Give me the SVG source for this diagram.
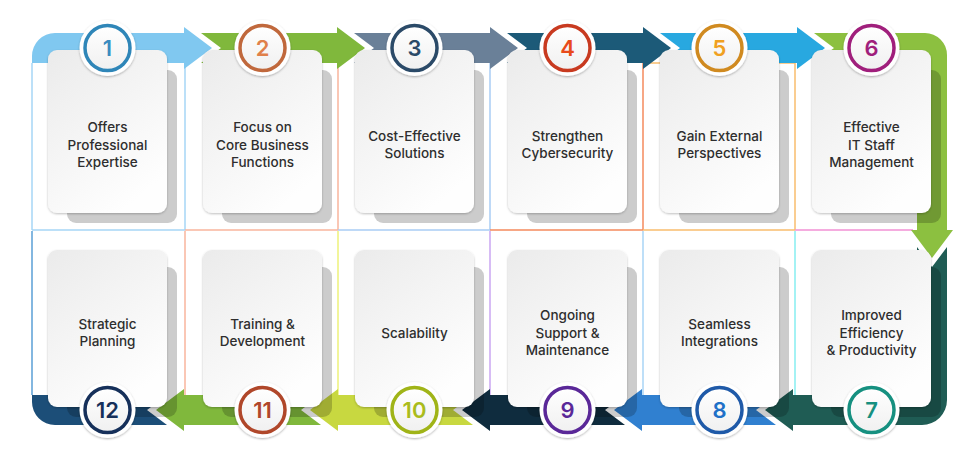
<svg xmlns="http://www.w3.org/2000/svg" width="978" height="464" viewBox="0 0 978 464">
<style>
.card{fill:url(#cardg);filter:url(#ds)}
.sh{fill:#000;fill-opacity:0.2}
.disk{fill:#fff;filter:url(#ds2)}
.ring{fill:url(#ringg);stroke-width:3.5}
.num{font-family:Inter,"Liberation Sans",sans-serif;font-weight:600;font-size:22px;text-anchor:middle}
.lbl{font-family:Inter,"Liberation Sans",sans-serif;font-weight:500;font-size:13.5px;fill:#2e2e2e;text-anchor:middle}
.gl{fill:none;stroke-width:1.5}
</style>
<defs>
<linearGradient id="cardg" x1="0" y1="0" x2="0.6" y2="1">
<stop offset="0" stop-color="#ebebeb"/>
<stop offset="1" stop-color="#fefefe"/>
</linearGradient>
<linearGradient id="ringg" x1="0" y1="0" x2="0" y2="1">
<stop offset="0" stop-color="#ffffff"/>
<stop offset="1" stop-color="#f0f0f0"/>
</linearGradient>
<filter id="ds" x="-10%" y="-10%" width="120%" height="120%">
<feDropShadow dx="0" dy="1" stdDeviation="1.2" flood-color="#000" flood-opacity="0.25"/>
</filter>
<filter id="ds2" x="-20%" y="-20%" width="140%" height="140%">
<feDropShadow dx="0" dy="1" stdDeviation="1.2" flood-color="#000" flood-opacity="0.3"/>
</filter>
</defs>
<rect width="978" height="464" fill="#fff"/>
<g id="grid">
<line class="gl" x1="32" y1="63" x2="32" y2="230" stroke="#a6d6f6"/>
<line class="gl" x1="185" y1="63" x2="185" y2="230" stroke="#a6d6f6"/>
<line class="gl" x1="338" y1="63" x2="338" y2="230" stroke="#f8b49c"/>
<line class="gl" x1="490" y1="63" x2="490" y2="230" stroke="#a8ccf4"/>
<line class="gl" x1="643" y1="63" x2="643" y2="230" stroke="#f58a5c"/>
<line class="gl" x1="795" y1="63" x2="795" y2="230" stroke="#f8bc6c"/>
<line class="gl" x1="643" y1="63" x2="795" y2="63" stroke="#f8bc6c"/>
<line class="gl" x1="32" y1="230" x2="185" y2="230" stroke="#a6d6f6"/>
<line class="gl" x1="185" y1="230" x2="338" y2="230" stroke="#f8b49c"/>
<line class="gl" x1="338" y1="230" x2="490" y2="230" stroke="#a8ccf4"/>
<line class="gl" x1="490" y1="230" x2="643" y2="230" stroke="#f58a5c"/>
<line class="gl" x1="643" y1="230" x2="795" y2="230" stroke="#f8bc6c"/>
<line class="gl" x1="795" y1="230" x2="913" y2="230" stroke="#f290d4"/>
<line class="gl" x1="32" y1="231" x2="32" y2="395" stroke="#5a9fd6"/>
<line class="gl" x1="185" y1="231" x2="185" y2="395" stroke="#f8b49c"/>
<line class="gl" x1="338" y1="231" x2="338" y2="395" stroke="#eef27a"/>
<line class="gl" x1="490" y1="231" x2="490" y2="395" stroke="#caa6f2"/>
<line class="gl" x1="643" y1="231" x2="643" y2="395" stroke="#a8d4f6"/>
<line class="gl" x1="795" y1="231" x2="795" y2="395" stroke="#86eef0"/>
</g>
<g id="connectors">
<path d="M32,63 V56 A23,23 0 0 1 55,33 H184 V27 L212,48 L184,69 V63 Z" fill="#80c8f0"/>
<path d="M201,33 H337 V27 L365,48 L337,69 V63 H201 L221,48 Z" fill="#80b83c"/>
<path d="M354,33 H490 V27 L518,48 L490,69 V63 H354 L374,48 Z" fill="#6a8098"/>
<path d="M507,33 H643 V27 L671,48 L643,69 V63 H507 L527,48 Z" fill="#1c5a78"/>
<path d="M660,33 H797 V27 L825,48 L797,69 V63 H660 L680,48 Z" fill="#28a8e0"/>
<path d="M814,33 H925 A22,22 0 0 1 947,55 V230 H953 L932,258 L911,230 H917 V63 H814 L834,48 Z" fill="#8cc040"/>
<path d="M917,247 L932,267 L947,247 V400 A25,25 0 0 1 922,425 H793 V431 L765,410 L793,389 V395 H917 Z" fill="#1f5c54"/>
<path d="M776,395 L756,410 L776,425 H642 V431 L614,410 L642,389 V395 Z" fill="#3080d0"/>
<path d="M625,395 L605,410 L625,425 H490 V431 L462,410 L490,389 V395 Z" fill="#0f2c3e"/>
<path d="M473,395 L453,410 L473,425 H338 V431 L310,410 L338,389 V395 Z" fill="#c8d840"/>
<path d="M321,395 L301,410 L321,425 H184 V431 L156,410 L184,389 V395 Z" fill="#80b83c"/>
<path d="M167,395 L147,410 L167,425 H55 A23,23 0 0 1 32,402 V395 Z" fill="#1c4e78"/>
</g>
<g id="node1">
<rect class="sh" x="67" y="70" width="110" height="153" rx="9"/>
<rect class="card" x="48" y="50" width="119" height="163" rx="9"/>
<circle class="disk" cx="107.5" cy="48" r="28"/>
<circle class="ring" cx="107.5" cy="48" r="22.5" stroke="#2f86b8"/>
<text class="num" x="107.5" y="56" fill="#3a8cc0">1</text>
<text class="lbl" y="132"><tspan x="107.5">Offers</tspan><tspan x="107.5" dy="17.5">Professional</tspan><tspan x="107.5" dy="17.5">Expertise</tspan></text>
</g>
<g id="node2">
<rect class="sh" x="222" y="70" width="110" height="153" rx="9"/>
<rect class="card" x="203" y="50" width="119" height="163" rx="9"/>
<circle class="disk" cx="262.5" cy="48" r="28"/>
<circle class="ring" cx="262.5" cy="48" r="22.5" stroke="#c0683c"/>
<text class="num" x="262.5" y="56" fill="#e0804a">2</text>
<text class="lbl" y="132"><tspan x="262.5">Focus on</tspan><tspan x="262.5" dy="17.5">Core Business</tspan><tspan x="262.5" dy="17.5">Functions</tspan></text>
</g>
<g id="node3">
<rect class="sh" x="374" y="70" width="110" height="153" rx="9"/>
<rect class="card" x="355" y="50" width="119" height="163" rx="9"/>
<circle class="disk" cx="414.5" cy="48" r="28"/>
<circle class="ring" cx="414.5" cy="48" r="22.5" stroke="#2b4a68"/>
<text class="num" x="414.5" y="56" fill="#2b4a68">3</text>
<text class="lbl" y="141"><tspan x="414.5">Cost-Effective</tspan><tspan x="414.5" dy="17">Solutions</tspan></text>
</g>
<g id="node4">
<rect class="sh" x="527" y="70" width="110" height="153" rx="9"/>
<rect class="card" x="508" y="50" width="119" height="163" rx="9"/>
<circle class="disk" cx="567.5" cy="48" r="28"/>
<circle class="ring" cx="567.5" cy="48" r="22.5" stroke="#c83a20"/>
<text class="num" x="567.5" y="56" fill="#e84a1a">4</text>
<text class="lbl" y="141"><tspan x="567.5">Strengthen</tspan><tspan x="567.5" dy="17">Cybersecurity</tspan></text>
</g>
<g id="node5">
<rect class="sh" x="679" y="70" width="110" height="153" rx="9"/>
<rect class="card" x="660" y="50" width="119" height="163" rx="9"/>
<circle class="disk" cx="719.5" cy="48" r="28"/>
<circle class="ring" cx="719.5" cy="48" r="22.5" stroke="#d08a20"/>
<text class="num" x="719.5" y="56" fill="#f0a020">5</text>
<text class="lbl" y="141"><tspan x="719.5">Gain External</tspan><tspan x="719.5" dy="17">Perspectives</tspan></text>
</g>
<g id="node6">
<rect class="sh" x="831" y="70" width="110" height="153" rx="9"/>
<rect class="card" x="812" y="50" width="119" height="163" rx="9"/>
<circle class="disk" cx="871.5" cy="48" r="28"/>
<circle class="ring" cx="871.5" cy="48" r="22.5" stroke="#a01f7c"/>
<text class="num" x="871.5" y="56" fill="#a01f7c">6</text>
<text class="lbl" y="132"><tspan x="871.5">Effective</tspan><tspan x="871.5" dy="17.5">IT Staff</tspan><tspan x="871.5" dy="17.5">Management</tspan></text>
</g>
<g id="node7">
<rect class="sh" x="831" y="267" width="110" height="150" rx="9"/>
<rect class="card" x="812" y="250" width="119" height="157" rx="9"/>
<circle class="disk" cx="871.5" cy="410" r="28"/>
<circle class="ring" cx="871.5" cy="410" r="22.5" stroke="#169080"/>
<text class="num" x="871.5" y="418" fill="#169080">7</text>
<text class="lbl" y="320"><tspan x="871.5">Improved</tspan><tspan x="871.5" dy="17.5">Efficiency</tspan><tspan x="871.5" dy="17.5">&amp; Productivity</tspan></text>
</g>
<g id="node8">
<rect class="sh" x="679" y="267" width="110" height="150" rx="9"/>
<rect class="card" x="660" y="250" width="119" height="157" rx="9"/>
<circle class="disk" cx="719.5" cy="410" r="28"/>
<circle class="ring" cx="719.5" cy="410" r="22.5" stroke="#1f5aa8"/>
<text class="num" x="719.5" y="418" fill="#2070c8">8</text>
<text class="lbl" y="329"><tspan x="719.5">Seamless</tspan><tspan x="719.5" dy="17">Integrations</tspan></text>
</g>
<g id="node9">
<rect class="sh" x="527" y="267" width="110" height="150" rx="9"/>
<rect class="card" x="508" y="250" width="119" height="157" rx="9"/>
<circle class="disk" cx="567.5" cy="410" r="28"/>
<circle class="ring" cx="567.5" cy="410" r="22.5" stroke="#5a2898"/>
<text class="num" x="567.5" y="418" fill="#5a2898">9</text>
<text class="lbl" y="320"><tspan x="567.5">Ongoing</tspan><tspan x="567.5" dy="17.5">Support &amp;</tspan><tspan x="567.5" dy="17.5">Maintenance</tspan></text>
</g>
<g id="node10">
<rect class="sh" x="374" y="267" width="110" height="150" rx="9"/>
<rect class="card" x="355" y="250" width="119" height="157" rx="9"/>
<circle class="disk" cx="414.5" cy="410" r="28"/>
<circle class="ring" cx="414.5" cy="410" r="22.5" stroke="#a0b418"/>
<text class="num" x="414.5" y="418" fill="#aabc1c">10</text>
<text class="lbl" x="414.5" y="338">Scalability</text>
</g>
<g id="node11">
<rect class="sh" x="222" y="267" width="110" height="150" rx="9"/>
<rect class="card" x="203" y="250" width="119" height="157" rx="9"/>
<circle class="disk" cx="262.5" cy="410" r="28"/>
<circle class="ring" cx="262.5" cy="410" r="22.5" stroke="#b0472a"/>
<text class="num" x="262.5" y="418" fill="#b0472a">11</text>
<text class="lbl" y="329"><tspan x="262.5">Training &amp;</tspan><tspan x="262.5" dy="17">Development</tspan></text>
</g>
<g id="node12">
<rect class="sh" x="67" y="267" width="110" height="150" rx="9"/>
<rect class="card" x="48" y="250" width="119" height="157" rx="9"/>
<circle class="disk" cx="107.5" cy="410" r="28"/>
<circle class="ring" cx="107.5" cy="410" r="22.5" stroke="#16305a"/>
<text class="num" x="107.5" y="418" fill="#16305a">12</text>
<text class="lbl" y="329"><tspan x="107.5">Strategic</tspan><tspan x="107.5" dy="17">Planning</tspan></text>
</g>
</svg>
